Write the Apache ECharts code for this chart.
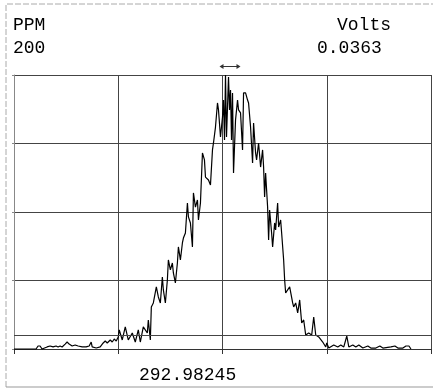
<!DOCTYPE html>
<html>
<head>
<meta charset="utf-8">
<script src="https://cdn.jsdelivr.net/npm/echarts@6/dist/echarts.min.js"></script>
<style>
html,body{margin:0;padding:0;background:#fff;}
#chart{width:433px;height:390px;}
</style>
</head>
<body>
<div id="chart"></div>
<script>
// Scan position (arbitrary units along the x axis, 4 divisions)
const scanX = [0,16,22,24,26,28,33,36,39,42,44,46,48,51,53,55,58,61,64,68,72,75,77,78,82,86,89,91,93,96,98,100,102,104,105,108,111,114,118,121,124,126,129,133,134,136,137,139,142,144,146,148,149,151,153,154,156,158,159,161,163,164,166,168,169,171,173,174,176,178,179,181,183,184,186,188,190,191,194,196,198,199,201,203,204,206,208,209,210,211,212,214,215,216,217,218,219,221,223,224,226,228,229,231,233,234,236,238,239,241,242,244,246,248,249,250,251,253,254,255,257,258,260,261,263,264,266,267,269,270,271,273,275,278,279,281,283,285,287,289,291,294,297,299,301,304,308,311,312,314,319,323,326,329,332,334,338,341,344,348,353,356,361,365,368,376,380,383,388,391,394,396,416];
// Concentration in PPM
const ppm = [0,0,0,2.2,2.2,0,1.5,2.2,1.5,2.2,1.5,2.2,1.5,3.6,5.1,3.6,2.2,2.9,2.2,1.5,1.5,2.2,5.1,1.5,0.7,1.5,4.4,5.8,4.4,6.6,5.1,7.3,5.8,8.8,13.9,6.6,16.1,6.6,11.7,5.1,13.9,5.1,16.1,11.7,21.2,6.6,30.7,33.6,45.3,38.0,33.6,52.6,43.1,33.6,50.4,65.0,57.7,62.8,55.5,48.2,62.8,74.5,65.0,77.4,81.0,84.7,106.6,96.4,92.0,74.5,113.9,103.6,108.8,94.2,106.6,143.1,138.0,125.5,123.4,119.7,145.3,150.4,162.0,179.6,174.5,154.7,169.3,181.7,152.6,200,154.7,198.5,174.5,189.0,152.6,186.9,128.5,167.2,181.7,174.5,172.3,145.3,186.9,186.9,181.7,179.6,162.0,135.8,165.0,143.1,138.0,150.4,132.8,145.3,132.8,110.9,128.5,103.6,79.6,101.5,84.7,74.5,92.0,86.9,106.6,89.0,94.2,84.7,65.0,50.4,40.9,43.1,45.3,33.6,30.7,33.6,26.3,35.8,19.0,21.2,10.2,11.7,10.2,23.4,10.2,8.8,5.1,1.5,4.4,0.7,2.9,1.5,2.9,1.5,9.5,1.5,2.9,1.5,2.9,0.7,2.2,0.7,0.7,2.2,0.7,1.5,2.2,0.7,0.7,2.2,2.2,0];
const thresholdPPM = 10;
const yMaxLabel = "200";
const yUnit = "PPM";
const rightUnit = "Volts";
const rightValue = "0.0363";
const centerLabel = "292.98245";

const font = "'Liberation Mono', monospace";
const chart = echarts.init(document.getElementById('chart'), null, {renderer:'canvas'});
chart.setOption({
  animation: false,
  backgroundColor: '#fff',
  grid: {left: 14, right: 2, top: 75, bottom: 41, containLabel: false},
  xAxis: {
    type: 'value', min: 0, max: 416, interval: 104,
    axisLine: {show: true, lineStyle: {color: '#333', width: 1}},
    axisTick: {show: true, length: 5, lineStyle: {color: '#333'}},
    axisLabel: {show: false},
    splitLine: {show: true, lineStyle: {color: '#444', width: 1}}
  },
  yAxis: {
    type: 'value', min: 0, max: 200, interval: 50,
    axisLine: {show: true, lineStyle: {color: '#888', width: 1}},
    axisTick: {show: true, length: 2, lineStyle: {color: '#888'}},
    axisLabel: {show: false},
    splitLine: {show: true, lineStyle: {color: '#444', width: 1}}
  },
  series: [{
    type: 'line',
    data: scanX.map((x, i) => [x, ppm[i]]),
    symbol: 'none',
    clip: false,
    lineStyle: {color: '#000', width: 1.2},
    markLine: {
      silent: true, symbol: 'none', label: {show: false},
      lineStyle: {color: '#444', type: 'solid', width: 1},
      data: [{yAxis: thresholdPPM}]
    }
  }],
  graphic: [
    {type: 'polyline', shape: {points: [[6, 387], [6, 4], [440, 4]]}, style: {stroke: '#aaa', lineWidth: 1, fill: null, lineDash: [6, 2]}},
    {type: 'line', shape: {x1: 6, y1: 387, x2: 440, y2: 387}, style: {stroke: '#999', lineWidth: 1}},
    {type: 'text', left: 13, top: 16, style: {text: yUnit, font: '18px ' + font, fill: '#000'}},
    {type: 'text', left: 13, top: 39, style: {text: yMaxLabel, font: '18px ' + font, fill: '#000'}},
    {type: 'text', left: 337, top: 16, style: {text: rightUnit, font: '18px ' + font, fill: '#000'}},
    {type: 'text', left: 317, top: 39, style: {text: rightValue, font: '18px ' + font, fill: '#000'}},
    {type: 'text', left: 139, top: 366, style: {text: centerLabel, font: '18px ' + font, fill: '#000'}},
    {type: 'group', left: 219, top: 64, children: [
      {type: 'line', shape: {x1: 2, y1: 3, x2: 19, y2: 3}, style: {stroke: '#333', lineWidth: 1}},
      {type: 'polygon', shape: {points: [[0, 3], [4, 0.5], [4, 5.5]]}, style: {fill: '#333'}},
      {type: 'polygon', shape: {points: [[21, 3], [17, 0.5], [17, 5.5]]}, style: {fill: '#333'}}
    ]}
  ]
});
</script>
</body>
</html>
